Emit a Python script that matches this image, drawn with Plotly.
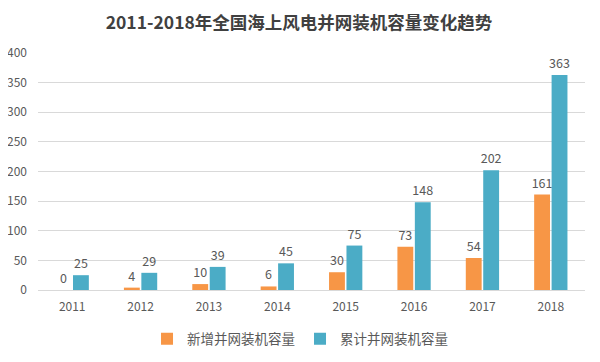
import plotly.graph_objects as go

years = ["2011", "2012", "2013", "2014", "2015", "2016", "2017", "2018"]
new_cap = [0, 4, 10, 6, 30, 73, 54, 161]
cum_cap = [25, 29, 39, 45, 75, 148, 202, 363]
series_names = ["新增并网装机容量", "累计并网装机容量"]
colors = ["#F79646", "#4BACC6"]

font_family = "Noto Sans CJK SC, Noto Sans, sans-serif"

fig = go.Figure()
for name, vals, col in zip(series_names, [new_cap, cum_cap], colors):
    fig.add_trace(go.Bar(
        x=years, y=vals, name=name,
        marker=dict(color=col, line=dict(width=0)),
        text=[str(v) for v in vals], textposition="outside",
        constraintext="none",
        textfont=dict(size=12.5, color="#595959", family=font_family),
        cliponaxis=False,
    ))

fig.update_layout(
    width=600, height=362,
    margin=dict(l=30, r=23, t=45, b=80, autoexpand=False),
    paper_bgcolor="white", plot_bgcolor="white",
    barmode="group", bargap=0.49, bargroupgap=0.09,
    uniformtext=dict(mode=False),
    title=dict(text="<b>2011-2018年全国海上风电并网装机容量变化趋势</b>",
               x=0.485, xanchor="center", y=0.958, yanchor="middle",
               font=dict(size=17.5, color="#404040", family=font_family)),
    xaxis=dict(showgrid=False, showline=True, linecolor="#D9D9D9",
               tickfont=dict(size=12, color="#595959", family=font_family),
               ticks="", ticklabelstandoff=6, automargin=False),
    yaxis=dict(range=[0, 400], dtick=50, showgrid=True, gridcolor="#D9D9D9",
               zeroline=False, showline=False,
               tickfont=dict(size=12, color="#595959", family=font_family),
               ticks="", ticklabelstandoff=10, automargin=False),
    legend=dict(orientation="h", x=0.479, xanchor="center", y=-0.207, yanchor="middle",
                font=dict(size=13.5, color="#595959", family=font_family),
                itemwidth=30),
    showlegend=True,
)

fig.write_html("out.html")
